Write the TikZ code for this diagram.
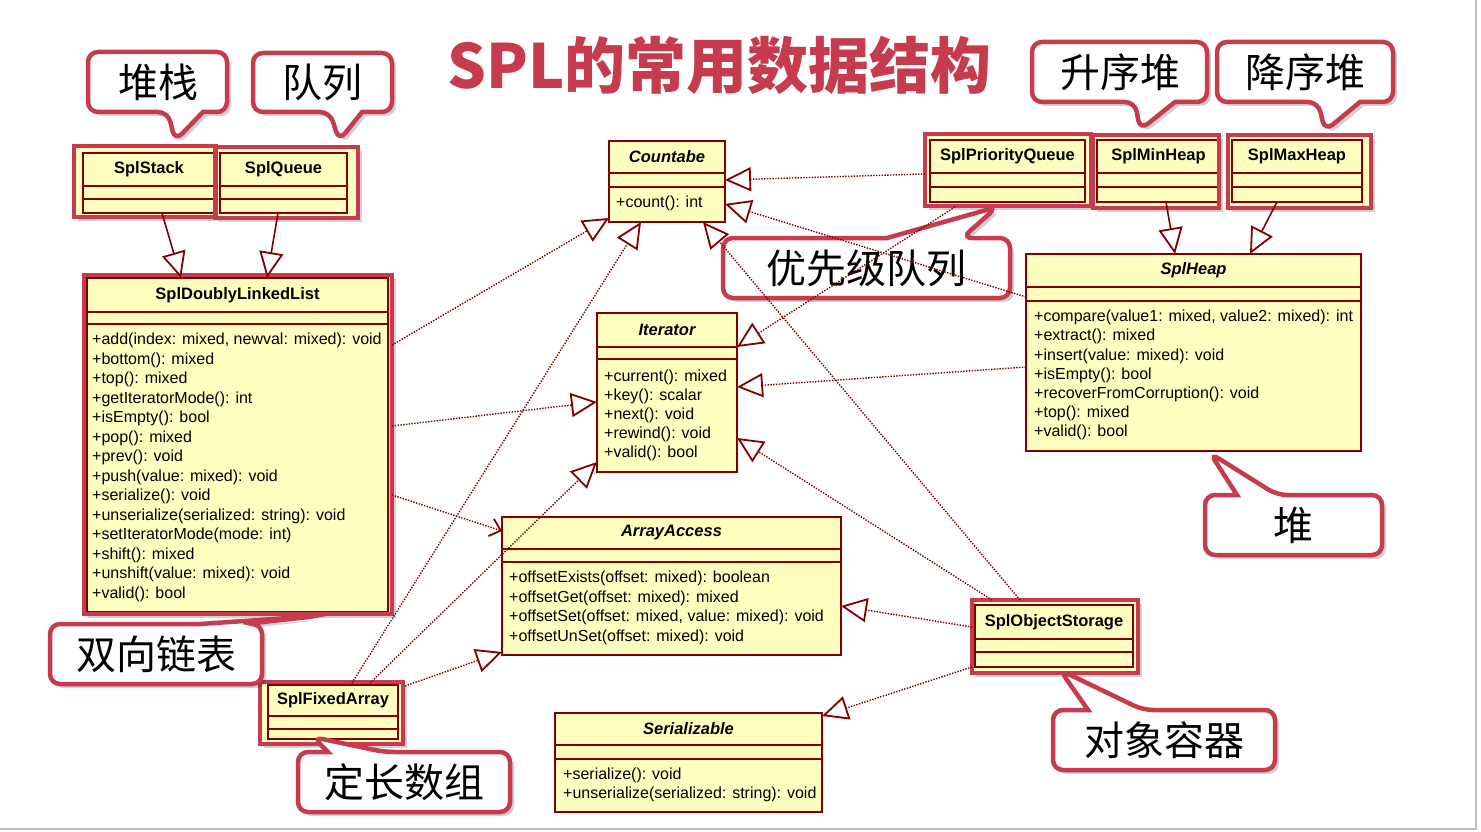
\documentclass[tikz,border=0pt]{standalone}
\usepackage{fontspec}
\setmainfont{Liberation Sans}
\newfontfamily\cjk{Noto Sans CJK SC}
\usetikzlibrary{arrows.meta,calc}
\definecolor{umlred}{RGB}{128,0,0}
\definecolor{umlfill}{RGB}{255,255,192}
\definecolor{hl}{RGB}{198,60,78}

\tikzset{
  cls/.style={draw=umlred, line width=2.2pt, fill=umlfill, anchor=north west, inner sep=0pt, outer sep=0pt},
  sep/.style={draw=umlred, line width=2.2pt},
  ttl/.style={font=\fontsize{16.5}{19}\selectfont\bfseries, inner sep=0pt},
  ittl/.style={font=\fontsize{16.5}{19}\selectfont\bfseries\itshape, inner sep=0pt},
  mth/.style={align=left, anchor=north west, inner sep=0pt},
  frm/.style={draw=hl, line width=4.5pt},
  shd/.style={fill=black, opacity=0.18},
  cal/.style={draw=hl, line width=4.5pt, fill=white},
  ctext/.style={font=\cjk\fontsize{40}{40}\selectfont, inner sep=0pt},
  real/.style={draw=umlred, line width=1.4pt, dash pattern=on 1.4pt off 1.4pt,
     -{Triangle[length=26pt, width=24pt, line width=1.8pt, fill=white]}},
  gen/.style={draw=umlred, line width=1.6pt,
     -{Triangle[length=26pt, width=24pt, line width=1.8pt, fill=white]}},
  dep/.style={draw=umlred, line width=1.4pt, dash pattern=on 1.4pt off 1.4pt,
     -{Straight Barb[length=10pt, width=18pt, line width=1.8pt]}},
}

\newcommand\umlclass[9]{%
  \node[cls, minimum width={#4-#2}, minimum height={#5-#3}] (#1) at (#2,#3) {};
  \draw[sep] (#2,#6) -- (#4,#6);
  \draw[sep] (#2,#7) -- (#4,#7);
  \node[#8] (#1-t) at ({(#2+#4)/2},{(#3+#6)/2}) {#9};
}
\newcommand\frameback[4]{%
  \fill[shd] (#1+4,#2+4) rectangle (#3+4,#4+4);
  \fill[umlfill] (#1,#2) rectangle (#3,#4);
}
\newcommand\frameline[4]{%
  \draw[frm] (#1,#2) rectangle (#3,#4);
}
\newcommand\calloutB[8]{%
  \fill[shd, rounded corners=10pt, shift={(4,4)}] (#5,#4) -- (#7,#8) [sharp corners] -- (#6,#4) [rounded corners=10pt] -- (#3,#4) -- (#3,#2) -- (#1,#2) -- (#1,#4) -- cycle;
  \draw[cal, rounded corners=10pt] (#5,#4) -- (#7,#8) [sharp corners] -- (#6,#4) [rounded corners=10pt] -- (#3,#4) -- (#3,#2) -- (#1,#2) -- (#1,#4) -- cycle;
}
\newcommand\calloutT[8]{%
  \fill[shd, rounded corners=10pt, shift={(4,4)}] (#6,#2) -- (#7,#8) [sharp corners] -- (#5,#2) [rounded corners=10pt] -- (#1,#2) -- (#1,#4) -- (#3,#4) -- (#3,#2) -- cycle;
  \draw[cal, rounded corners=10pt] (#6,#2) -- (#7,#8) [sharp corners] -- (#5,#2) [rounded corners=10pt] -- (#1,#2) -- (#1,#4) -- (#3,#4) -- (#3,#2) -- cycle;
}

\begin{document}
\begin{tikzpicture}[x=1pt, y=-1pt]
\useasboundingbox (0,0) rectangle (1481,832);
\fill[white] (0,0) rectangle (1481,832);
\draw[black!25, line width=1.5pt] (1476,0) -- (1476,829) -- (0,829);

% title
\node[anchor=base west, inner sep=0pt, text=hl, font=\cjk\bfseries\fontsize{61}{61}\selectfont] (title) at (447,89)
  {SPL的常用数据结构};

% highlight frame backgrounds
\frameback{74}{146}{216}{217}
\frameback{215}{147}{358}{218}
\frameback{84}{275}{392}{614}
\frameback{925}{134}{1091}{206}
\frameback{1093}{135}{1219}{208}
\frameback{1228}{135}{1371}{208}
\frameback{260}{682}{403}{744}
\frameback{972}{600}{1138}{673}

% classes
\umlclass{stack}{83}{153}{215}{213}{186}{199}{ttl}{SplStack}
\umlclass{queue}{220}{153}{347}{213}{186}{199}{ttl}{SplQueue}
\umlclass{dll}{87}{278}{388}{612}{312}{324}{ttl}{SplDoublyLinkedList}
\umlclass{cnt}{609}{141}{725}{222}{173}{187}{ittl}{Countabe}
\umlclass{iter}{597}{313}{737}{472}{347}{359}{ittl}{Iterator}
\umlclass{pq}{930}{140}{1085}{202}{173}{187}{ttl}{SplPriorityQueue}
\umlclass{minh}{1097}{140}{1220}{202}{173}{187}{ttl}{SplMinHeap}
\umlclass{maxh}{1232}{140}{1362}{202}{173}{187}{ttl}{SplMaxHeap}
\umlclass{heap}{1026}{254}{1361}{451}{287}{301}{ittl}{SplHeap}
\umlclass{aa}{502}{517}{841}{655}{549}{562}{ittl}{ArrayAccess}
\umlclass{ser}{555}{713}{822}{812}{745}{759}{ittl}{Serializable}
\umlclass{fixed}{268}{685}{398}{739}{716}{729}{ttl}{SplFixedArray}
\umlclass{obj}{975}{605}{1133}{667}{639}{652}{ttl}{SplObjectStorage}

% methods
\node[mth, font=\fontsize{16}{19.5}\selectfont] (dll-m) at (92,333) {+add(index: mixed, newval: mixed): void\\+bottom(): mixed\\+top(): mixed\\+getIteratorMode(): int\\+isEmpty(): bool\\+pop(): mixed\\+prev(): void\\+push(value: mixed): void\\+serialize(): void\\+unserialize(serialized: string): void\\+setIteratorMode(mode: int)\\+shift(): mixed\\+unshift(value: mixed): void\\+valid(): bool};
\node[mth, font=\fontsize{16}{19}\selectfont] (cnt-m) at (616,196) {+count(): int};
\node[mth, font=\fontsize{16}{19}\selectfont] (iter-m) at (604,370) {+current(): mixed\\+key(): scalar\\+next(): void\\+rewind(): void\\+valid(): bool};
\node[mth, font=\fontsize{16}{19.2}\selectfont] (heap-m) at (1034,310) {+compare(value1: mixed, value2: mixed): int\\+extract(): mixed\\+insert(value: mixed): void\\+isEmpty(): bool\\+recoverFromCorruption(): void\\+top(): mixed\\+valid(): bool};
\node[mth, font=\fontsize{16}{19.6}\selectfont] (aa-m) at (509,571) {+offsetExists(offset: mixed): boolean\\+offsetGet(offset: mixed): mixed\\+offsetSet(offset: mixed, value: mixed): void\\+offsetUnSet(offset: mixed): void};
\node[mth, font=\fontsize{16}{19}\selectfont] (ser-m) at (563,768) {+serialize(): void\\+unserialize(serialized: string): void};

% highlight frames
\frameline{74}{146}{216}{217}
\frameline{215}{147}{358}{218}
\frameline{84}{275}{392}{614}
\frameline{925}{134}{1091}{206}
\frameline{1093}{135}{1219}{208}
\frameline{1228}{135}{1371}{208}
\frameline{260}{682}{403}{744}
\frameline{972}{600}{1138}{673}

% callouts
\calloutB{88}{52}{227}{112}{168}{203}{175}{141}
\node[ctext] (c-stack) at (158,82) {堆栈};
\calloutB{253}{53}{392}{112}{330}{362}{339}{141}
\node[ctext] (c-queue) at (322,82) {队列};
\calloutB{1032}{42}{1207}{102}{1135}{1175}{1140}{130}
\node[ctext] (c-min) at (1120,72) {升序堆};
\calloutB{1217}{42}{1393}{102}{1318}{1360}{1325}{131}
\node[ctext] (c-max) at (1305,72) {降序堆};
\calloutT{723}{238}{1010}{298}{887}{962}{997}{207}
\node[ctext] (c-pq) at (866,268) {优先级队列};
\calloutT{1205}{495}{1382}{555}{1237}{1277}{1210}{453}
\node[ctext] (c-heap) at (1293,525) {堆};
\calloutT{50}{624}{262}{684}{200}{245}{318}{616}
\node[ctext] (c-dll) at (156,654) {双向链表};
\calloutT{298}{752}{510}{812}{328}{384}{313}{737}
\node[ctext] (c-fixed) at (404,782) {定长数组};
\calloutT{1053}{710}{1275}{770}{1088}{1143}{1060}{670}
\node[ctext] (c-obj) at (1164,740) {对象容器};

% connectors
\draw[gen] ($(stack.south west)+(79,0)$) -- ($(dll.north west)+(94,0)$);
\draw[gen] ($(queue.south west)+(58,0)$) -- ($(dll.north west)+(180,0)$);
\draw[real] ($(dll.north east)+(4,67)$) -- ($(cnt.south west)+(0,-4)$);
\draw[real] ($(dll.north east)+(4,148)$) -- ($(iter.north west)+(0,89)$);
\draw[dep] ($(dll.north east)+(4,217)$) -- ($(aa.north west)+(0,14)$);
\draw[real] ($(fixed.north west)+(84,-2)$) -- ($(cnt.south west)+(32,0)$);
\draw[real] ($(fixed.north west)+(102,-2)$) -- ($(iter.south west)+(0,-10)$);
\draw[real] ($(fixed.north east)+(7,1)$) -- ($(aa.south west)+(0,-3)$);
\draw[real] ($(pq.north west)+(-5,34)$) -- ($(cnt.north east)+(0,39)$);
\draw[real] ($(pq.south west)+(25,5)$) -- ($(iter.north east)+(0,34)$);
\draw[real] ($(heap.north west)+(0,43)$) -- ($(cnt.north east)+(0,63)$);
\draw[real] ($(heap.north west)+(0,113)$) -- ($(iter.north east)+(0,74)$);
\draw[gen] ($(minh.south west)+(69,0)$) -- ($(heap.north west)+(149,0)$);
\draw[gen] ($(maxh.south west)+(45,0)$) -- ($(heap.north west)+(224,0)$);
\draw[real] ($(obj.north west)+(45,-5)$) -- ($(cnt.south west)+(94,0)$);
\draw[real] ($(obj.north west)+(17,-5)$) -- ($(iter.north east)+(0,125)$);
\draw[real] ($(obj.north west)+(-3,22)$) -- ($(aa.north east)+(0,89)$);
\draw[real] ($(obj.south west)+(-3,0)$) -- ($(ser.north east)+(0,3)$);
\end{tikzpicture}
\end{document}
